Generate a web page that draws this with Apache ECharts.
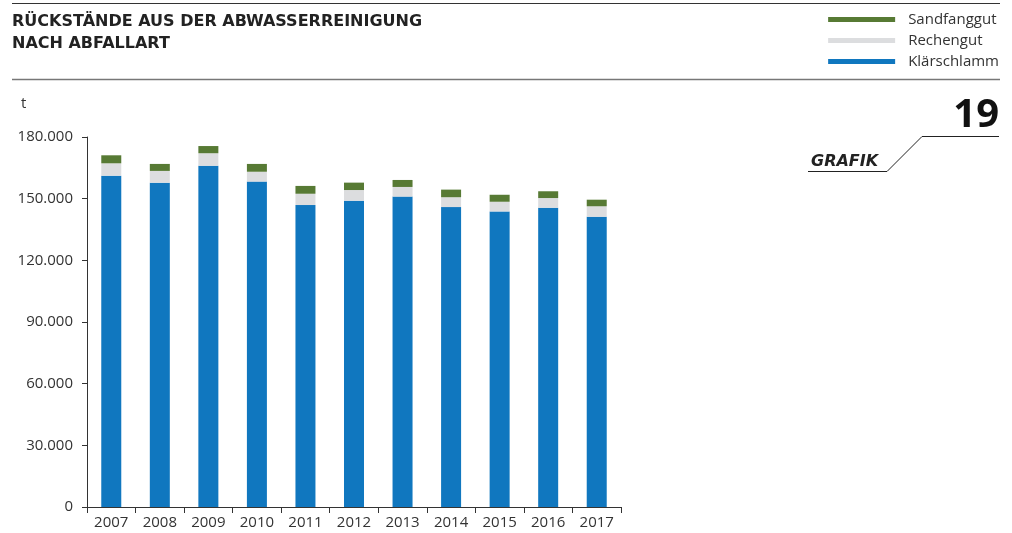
<!DOCTYPE html>
<html>
<head>
    <meta charset="utf-8">
    <title>Rückstände aus der Abwasserreinigung</title>
    <script src="https://cdn.jsdelivr.net/npm/echarts@6/dist/echarts.min.js"></script>
    <style>
        html, body { margin: 0; padding: 0; background: #fff; }
    </style>
</head>
<body>
<div id="main" style="width: 1012px;height:533px;"></div>

<script type="text/javascript">
    // values in tonnes
    var years = ['2007', '2008', '2009', '2010', '2011', '2012', '2013', '2014', '2015', '2016', '2017'];
    var klaerschlamm = [161200, 157800, 166000, 158300, 146900, 149000, 151000, 145900, 143800, 145600, 141200];
    var rechengut = [6000, 5700, 6100, 4800, 5500, 5200, 4700, 4800, 4700, 4700, 5100];
    var sandfanggut = [3900, 3400, 3500, 3800, 3800, 3600, 3400, 3700, 3400, 3300, 3200];
    var yTicks = [0, 30000, 60000, 90000, 120000, 150000, 180000];

    var font = '"Open Sans", "Noto Sans", sans-serif';
    var headFont = '"DejaVu Sans", "Open Sans", sans-serif';
    var myChart = echarts.init(document.getElementById('main'));

    function fmt(v) {
        return String(v).replace(/\B(?=(\d{3})+(?!\d))/g, '.');
    }

    var option = {
        animation: false,
        textStyle: { fontFamily: font },
        grid: { left: 87, right: 391, top: 137, bottom: 26 },
        legend: {
            orient: 'vertical',
            right: 8,
            top: 7,
            itemWidth: 67,
            itemHeight: 5,
            itemGap: 6,
            icon: 'rect',
            data: ['Sandfanggut', 'Rechengut', 'Klärschlamm'],
            textStyle: { fontSize: 15, color: '#333', fontFamily: font, padding: [0, 0, 0, 8] }
        },
        xAxis: {
            type: 'category',
            data: years,
            axisLine: { lineStyle: { color: '#333', width: 1 } },
            axisTick: { show: true, length: 6, lineStyle: { color: '#333' } },
            axisLabel: { color: '#333', fontSize: 15, margin: 8 }
        },
        yAxis: {
            type: 'value',
            min: yTicks[0],
            max: yTicks[yTicks.length - 1],
            interval: yTicks[1] - yTicks[0],
            axisLine: { show: true, lineStyle: { color: '#333', width: 1 } },
            axisTick: { show: true, length: 5, lineStyle: { color: '#333' } },
            axisLabel: { color: '#333', fontSize: 15, margin: 14, formatter: fmt },
            splitLine: { show: false }
        },
        series: [{
            name: 'Klärschlamm',
            type: 'bar',
            stack: 'total',
            barWidth: 20,
            itemStyle: { color: '#1077bf' },
            data: klaerschlamm
        }, {
            name: 'Rechengut',
            type: 'bar',
            stack: 'total',
            itemStyle: { color: '#dcdddf' },
            data: rechengut
        }, {
            name: 'Sandfanggut',
            type: 'bar',
            stack: 'total',
            itemStyle: { color: '#577a34' },
            data: sandfanggut
        }],
        graphic: [
            { type: 'line', shape: { x1: 12, y1: 3.5, x2: 1000, y2: 3.5 }, style: { stroke: '#333', lineWidth: 1 } },
            { type: 'line', shape: { x1: 12, y1: 79.5, x2: 1000, y2: 79.5 }, style: { stroke: '#777', lineWidth: 1.5 } },
            {
                type: 'text', left: 12, top: 11,
                style: {
                    text: 'RÜCKSTÄNDE AUS DER ABWASSERREINIGUNG\nNACH ABFALLART',
                    font: 'bold 16px ' + headFont, fill: '#222', lineHeight: 22
                }
            },
            { type: 'text', left: 21, top: 96, style: { text: 't', font: '15px ' + font, fill: '#333' } },
            {
                type: 'text', right: 13, top: 96,
                style: { text: '19', font: 'bold 40px ' + font, fill: '#111' }
            },
            {
                type: 'polyline',
                shape: { points: [[808, 171.5], [887, 171.5], [922, 136.5], [999, 136.5]] },
                style: { stroke: '#222', lineWidth: 1, fill: null }
            },
            {
                type: 'text', left: 811, top: 154,
                style: { text: 'GRAFIK', font: 'italic bold 16px ' + headFont, fill: '#222' }
            }
        ]
    };

    myChart.setOption(option);
</script>
</body>
</html>
